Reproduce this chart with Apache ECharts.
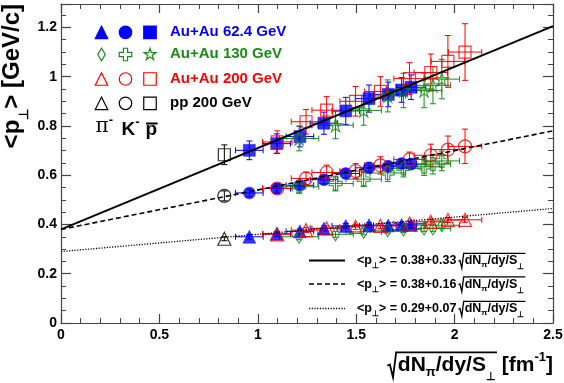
<!DOCTYPE html>
<html><head><meta charset="utf-8">
<script src="https://cdn.jsdelivr.net/npm/echarts@6/dist/echarts.min.js"></script>
<style>html,body{margin:0;padding:0;background:#fff}#c{width:564px;height:383px}</style>
</head><body><div id="c"></div>
<script>
// ---------------- data ----------------
const xTickLabels = ['0', '0.5', '1', '1.5', '2', '2.5'];
const yTickLabels = ['0', '0.2', '0.4', '0.6', '0.8', '1', '1.2'];

// Au+Au 62.4 GeV
const au62X    = [0.957, 1.096, 1.214, 1.336, 1.447, 1.565, 1.663, 1.731, 1.779];
const au62XErr = [0.07, 0.07, 0.07, 0.07, 0.07, 0.07, 0.075, 0.075, 0.075];
const au62Pi    = [0.350, 0.362, 0.372, 0.384, 0.394, 0.397, 0.396, 0.398, 0.398];
const au62PiErr = [0.01, 0.01, 0.01, 0.01, 0.01, 0.01, 0.01, 0.01, 0.01];
const au62K    = [0.528, 0.546, 0.559, 0.582, 0.607, 0.630, 0.636, 0.647, 0.645];
const au62KErr = [0.015, 0.015, 0.015, 0.018, 0.018, 0.02, 0.02, 0.02, 0.02];
const au62P    = [0.701, 0.728, 0.757, 0.811, 0.861, 0.911, 0.928, 0.946, 0.957];
const au62PErr = [0.038, 0.04, 0.042, 0.045, 0.055, 0.055, 0.05, 0.05, 0.05];

// Au+Au 130 GeV
const au130X    = [1.21, 1.395, 1.538, 1.66, 1.74, 1.845, 1.89, 1.935];
const au130XErr = [0.1, 0.09, 0.09, 0.09, 0.09, 0.09, 0.09, 0.09];
const au130Pi    = [0.350, 0.360, 0.370, 0.377, 0.380, 0.384, 0.384, 0.397];
const au130PiErr = [0.012, 0.012, 0.012, 0.012, 0.012, 0.012, 0.012, 0.012];
const au130K    = [0.553, 0.566, 0.584, 0.609, 0.628, 0.634, 0.645, 0.658];
const au130KErr = [0.025, 0.03, 0.03, 0.035, 0.035, 0.035, 0.04, 0.04];
const au130P    = [0.749, 0.803, 0.863, 0.922, 0.944, 0.944, 0.965, 0.99];
const au130PErr = [0.05, 0.055, 0.06, 0.065, 0.07, 0.07, 0.075, 0.08];

// Au+Au 200 GeV
const au200X    = [1.099, 1.245, 1.35, 1.497, 1.623, 1.771, 1.879, 1.966, 2.053];
const au200XErr = [0.075, 0.075, 0.075, 0.08, 0.08, 0.08, 0.085, 0.085, 0.085];
const au200Pi    = [0.360, 0.377, 0.384, 0.390, 0.394, 0.404, 0.411, 0.418, 0.419];
const au200PiErr = [0.01, 0.01, 0.01, 0.01, 0.01, 0.01, 0.01, 0.01, 0.01];
const au200K    = [0.546, 0.587, 0.611, 0.617, 0.640, 0.664, 0.681, 0.704, 0.717];
const au200KErr = [0.02, 0.025, 0.03, 0.03, 0.035, 0.03, 0.045, 0.055, 0.07];
const au200P    = [0.735, 0.817, 0.864, 0.900, 0.940, 0.992, 1.017, 1.062, 1.100];
const au200PErr = [0.045, 0.05, 0.055, 0.06, 0.06, 0.065, 0.075, 0.105, 0.115];

// pp 200 GeV
const pp200X    = [0.83];
const pp200XErr = [0];
const pp200Pi    = [0.342];
const pp200PiErr = [0.008];
const pp200K    = [0.516];
const pp200KErr = [0.02];
const pp200P    = [0.683];
const pp200PErr = [0.04];

// fits <pT> = a + b * sqrt(dN/dy/S)
const fitIntercept = [0.38, 0.38, 0.29];
const fitSlope     = [0.33, 0.16, 0.07];
const fitRange     = [0, 2.5];

// ---------------- helpers ----------------
const FF = '"Liberation Sans", Arial, Helvetica, sans-serif';
const BLUE = '#0000ff', GREEN = '#1a8a1a', RED = '#ff0000', BLACK = '#000000';

const starPts = [[0,-1],[0.2245,-0.309],[0.951,-0.309],[0.363,0.118],[0.588,0.809],[0,0.382],[-0.588,0.809],[-0.363,0.118],[-0.951,-0.309],[-0.2245,-0.309]];
const crossPts = [[-0.33,-1],[0.33,-1],[0.33,-0.33],[1,-0.33],[1,0.33],[0.33,0.33],[0.33,1],[-0.33,1],[-0.33,0.33],[-1,0.33],[-1,-0.33],[-0.33,-0.33]];
function toPath(pts){ return 'path://M' + pts.map(p => p[0] + ',' + p[1]).join('L') + 'Z'; }

function errBars(color) {
  return function (params, api) {
    const x = api.value(0), y = api.value(1), ex = api.value(2), ey = api.value(3);
    const c = api.coord([x, y]);
    const st = { stroke: color, lineWidth: 1 };
    const ch = [], cap = 3;
    if (ex > 0) {
      const l = api.coord([x - ex, y])[0], r = api.coord([x + ex, y])[0];
      ch.push({ type: 'line', shape: { x1: l, y1: c[1], x2: r, y2: c[1] }, style: st });
      ch.push({ type: 'line', shape: { x1: l, y1: c[1] - cap, x2: l, y2: c[1] + cap }, style: st });
      ch.push({ type: 'line', shape: { x1: r, y1: c[1] - cap, x2: r, y2: c[1] + cap }, style: st });
    }
    if (ey > 0) {
      const t = api.coord([x, y + ey])[1], b = api.coord([x, y - ey])[1];
      ch.push({ type: 'line', shape: { x1: c[0], y1: t, x2: c[0], y2: b }, style: st });
      ch.push({ type: 'line', shape: { x1: c[0] - cap, y1: t, x2: c[0] + cap, y2: t }, style: st });
      ch.push({ type: 'line', shape: { x1: c[0] - cap, y1: b, x2: c[0] + cap, y2: b }, style: st });
    }
    return { type: 'group', children: ch };
  };
}

const series = [];
function addSet(xs, xe, ys, ye, color, symbol, size, filled) {
  series.push({
    type: 'custom', renderItem: errBars(color), silent: true, z: 2,
    encode: { x: 0, y: 1 },
    data: xs.map((x, i) => [x, ys[i], xe[i], ye[i]])
  });
  series.push({
    type: 'scatter', symbol: symbol, symbolSize: size, z: 3, silent: true,
    itemStyle: filled ? { color: color, borderColor: color, borderWidth: 0.5 }
                      : { color: 'rgba(0,0,0,0)', borderColor: color, borderWidth: 1.2 },
    data: xs.map((x, i) => [x, ys[i]])
  });
}
// Au+Au 62.4 (filled blue)
addSet(au62X, au62XErr, au62Pi, au62PiErr, BLUE, 'triangle', 13, true);
addSet(au62X, au62XErr, au62K, au62KErr, BLUE, 'circle', 12, true);
addSet(au62X, au62XErr, au62P, au62PErr, BLUE, 'rect', 12, true);
// Au+Au 130 (open green)
addSet(au130X, au130XErr, au130Pi, au130PiErr, GREEN, 'diamond', [8, 13], false);
addSet(au130X, au130XErr, au130K, au130KErr, GREEN, toPath(crossPts), 13, false);
addSet(au130X, au130XErr, au130P, au130PErr, GREEN, toPath(starPts), 13, false);
// Au+Au 200 (open red)
addSet(au200X, au200XErr, au200Pi, au200PiErr, RED, 'triangle', 13, false);
addSet(au200X, au200XErr, au200K, au200KErr, RED, 'circle', 13, false);
addSet(au200X, au200XErr, au200P, au200PErr, RED, 'rect', 12, false);
// pp 200 (open black)
addSet(pp200X, pp200XErr, pp200Pi, pp200PiErr, BLACK, 'triangle', 13, false);
addSet(pp200X, pp200XErr, pp200K, pp200KErr, BLACK, 'circle', 13, false);
addSet(pp200X, pp200XErr, pp200P, pp200PErr, BLACK, 'rect', 12, false);

const fitStyles = [
  { type: 'solid', width: 2 },
  { type: [5, 3], width: 1.6 },
  { type: [1.2, 1.5], width: 1.3 }
];
fitIntercept.forEach((a, i) => {
  series.push({
    type: 'line', z: 5, silent: true, showSymbol: false, animation: false,
    lineStyle: { color: '#000', width: fitStyles[i].width, type: fitStyles[i].type },
    data: fitRange.map(x => [x, a + fitSlope[i] * x])
  });
});

// ---------- text layout helpers (graphic) ----------
const mctx = document.createElement('canvas').getContext('2d');
function fontStr(p) { return (p.w || 'bold') + ' ' + p.s + 'px ' + (p.f || FF); }
function tw(p) { mctx.font = fontStr(p); return mctx.measureText(p.t).width; }
function layout(pieces, x0, base, color, out) {
  let x = x0;
  for (const p of pieces) {
    if (p.rad) {
      const s = p.s, rx = x;
      const end = layout(p.rad, x + 0.5 * s, base, color, out);
      const top = base - 0.93 * s;
      out.push({ type: 'polyline', shape: { points: [[rx, base - 0.3 * s], [rx + 0.12 * s, base - 0.36 * s], [rx + 0.27 * s, base + 0.25 * s], [rx + 0.42 * s, top], [end + 1, top]] },
                 style: { stroke: color, fill: null, lineWidth: p.lw || 1.5 } });
      x = end;
    } else if (p.gap) {
      x += p.gap;
    } else {
      out.push({ type: 'text', x: x, y: base + (p.dy || 0) - 0.347 * p.s,
                 style: { text: p.t, font: fontStr(p), fill: p.c || color, align: 'left', verticalAlign: 'middle' } });
      x += tw(p);
    }
  }
  return x;
}
function textGroup(pieces, x0, base, color, extra) {
  const ch = [];
  layout(pieces, x0, base, color, ch);
  return Object.assign({ type: 'group', children: ch }, extra || {});
}
function width(pieces) { return layout(pieces, 0, 0, '#000', []); }

const graphics = [];
// legend symbols
function sym(kind, cx, cy, s, color, filled) {
  const style = { fill: filled ? color : null, stroke: color, lineWidth: 1.2 };
  const poly = pts => ({ type: 'polygon', shape: { points: pts.map(p => [cx + p[0] * s / 2, cy + p[1] * s / 2]) }, style });
  if (kind === 'triangle') return poly([[0, -1], [1, 1], [-1, 1]]);
  if (kind === 'circle') return { type: 'circle', shape: { cx, cy, r: s / 2 }, style };
  if (kind === 'rect') return { type: 'rect', shape: { x: cx - s / 2, y: cy - s / 2, width: s, height: s }, style };
  if (kind === 'diamond') return poly([[0, -1], [0.6, 0], [0, 1], [-0.6, 0]]);
  if (kind === 'cross') return poly(crossPts);
  if (kind === 'star') return poly(starPts);
}
const legendRows = [
  { kinds: ['triangle', 'circle', 'rect'], color: BLUE, filled: true, label: 'Au+Au 62.4 GeV', cy: 32.3, base: 37.5 },
  { kinds: ['diamond', 'cross', 'star'], color: GREEN, filled: false, label: 'Au+Au 130 GeV', cy: 54.5, base: 59.5 },
  { kinds: ['triangle', 'circle', 'rect'], color: RED, filled: false, label: 'Au+Au 200 GeV', cy: 79, base: 84 },
  { kinds: ['triangle', 'circle', 'rect'], color: BLACK, filled: false, label: 'pp 200 GeV', cy: 103.3, base: 108.3 }
];
const legendCols = [101.5, 125.5, 150];
legendRows.forEach(r => {
  r.kinds.forEach((k, j) => graphics.push(sym(k, legendCols[j], r.cy, 12.5, r.color, r.filled)));
  graphics.push(textGroup([{ t: r.label, s: 15 }], 170, r.base, r.color));
});
// pi- K- pbar
graphics.push(textGroup([{ t: 'π', s: 20, w: 'normal', f: '"DejaVu Serif", "Liberation Serif", serif' }, { t: '-', s: 13, dy: -9 }], 95.5, 134, '#000'));
graphics.push(textGroup([{ t: 'K', s: 19 }, { t: '-', s: 13, dy: -10 }], 121.5, 136.7, '#000'));
graphics.push(textGroup([{ t: 'p', s: 19 }], 145.5, 136.7, '#000'));
graphics.push({ type: 'line', shape: { x1: 146, y1: 123.5, x2: 146 + tw({ t: 'p', s: 19 }), y2: 123.5 }, style: { stroke: '#000', lineWidth: 2 } });

// fit legend (bottom right)
const fitCoefs = ['0.38+0.33', '0.38+0.16', '0.29+0.07'];
const fitRowBase = [265, 288.5, 313];
const fitRowLineY = [260.5, 284, 308.5];
fitCoefs.forEach((c, i) => {
  graphics.push({ type: 'line', shape: { x1: 309, y1: fitRowLineY[i], x2: 345, y2: fitRowLineY[i] },
                  style: { stroke: '#000', lineWidth: fitStyles[i].width, lineDash: fitStyles[i].type === 'solid' ? null : fitStyles[i].type } });
  graphics.push(textGroup([
    { t: '<p', s: 12.5 }, { t: '⊥', s: 8, dy: 4 }, { t: '> = ' + c, s: 12.5 }, { gap: 2 },
    { rad: [{ t: 'dN', s: 12.5 }, { t: 'π', s: 8, dy: 3 }, { t: '/dy/S', s: 12.5 }, { t: '⊥', s: 8, dy: 5 }], s: 12.5, lw: 1.3 }
  ], 357, fitRowBase[i], '#000'));
});

// x-axis title
const xTitle = [
  { rad: [{ t: 'dN', s: 21 }, { t: 'π', s: 13, dy: 5 }, { t: '/dy/S', s: 21 }, { t: '⊥', s: 11, dy: 9 }], s: 21, lw: 1.8 },
  { t: ' [fm', s: 21 }, { t: '-1', s: 13, dy: -10 }, { t: ']', s: 21 }
];
graphics.push(textGroup(xTitle, 553 - width(xTitle), 372, '#000'));

// y-axis title (rotated)
const yTitle = [{ t: '<p', s: 24 }, { t: '⊥', s: 13, dy: 8 }, { t: '> [GeV/c]', s: 24 }];
graphics.push(textGroup(yTitle, 0, 0, '#000', { x: 21, y: 4 + width(yTitle), rotation: Math.PI / 2 }));

graphics.forEach(g => { g.z = 100; g.silent = true; });

// ---------------- axes ----------------
const AX = '#444';
function xAx(pos, show) {
  return {
    type: 'value', position: pos, min: 0, max: 2.5, interval: 0.5,
    axisLine: { show: true, onZero: false, lineStyle: { color: AX, width: 1.2 } },
    axisTick: { show: true, inside: true, length: 9, lineStyle: { color: AX, width: 1.2 } },
    minorTick: { show: true, splitNumber: 5, length: 5, lineStyle: { color: AX, width: 1 } },
    splitLine: { show: false }, minorSplitLine: { show: false },
    axisLabel: { show: show, fontFamily: FF, fontWeight: 'bold', fontSize: 14, color: '#000', margin: 5,
                 formatter: v => { const i = Math.round(v / 0.5); return Math.abs(v - i * 0.5) < 1e-6 ? xTickLabels[i] : ''; } }
  };
}
function yAx(pos, show) {
  return {
    type: 'value', position: pos, min: 0, max: 1.295, interval: 0.2,
    axisLine: { show: true, onZero: false, lineStyle: { color: AX, width: 1.2 } },
    axisTick: { show: true, inside: true, length: 10, lineStyle: { color: AX, width: 1.2 } },
    minorTick: { show: true, splitNumber: 4, length: 5, lineStyle: { color: AX, width: 1 } },
    splitLine: { show: false }, minorSplitLine: { show: false },
    axisLabel: { show: show, fontFamily: FF, fontWeight: 'bold', fontSize: 14, color: '#000', margin: 4,
                 showMaxLabel: false,
                 formatter: v => { const i = Math.round(v / 0.2); return Math.abs(v - i * 0.2) < 1e-6 ? yTickLabels[i] : ''; } }
  };
}

const chart = echarts.init(document.getElementById('c'), null, { renderer: 'canvas' });
chart.setOption({
  animation: false,
  backgroundColor: '#fff',
  grid: { left: 61, right: 11, top: 4, bottom: 60, outerBoundsMode: 'none', containLabel: false },
  xAxis: [xAx('bottom', true), xAx('top', false)],
  yAxis: [yAx('left', true), yAx('right', false)],
  series: series,
  graphic: graphics
});
</script></body></html>
